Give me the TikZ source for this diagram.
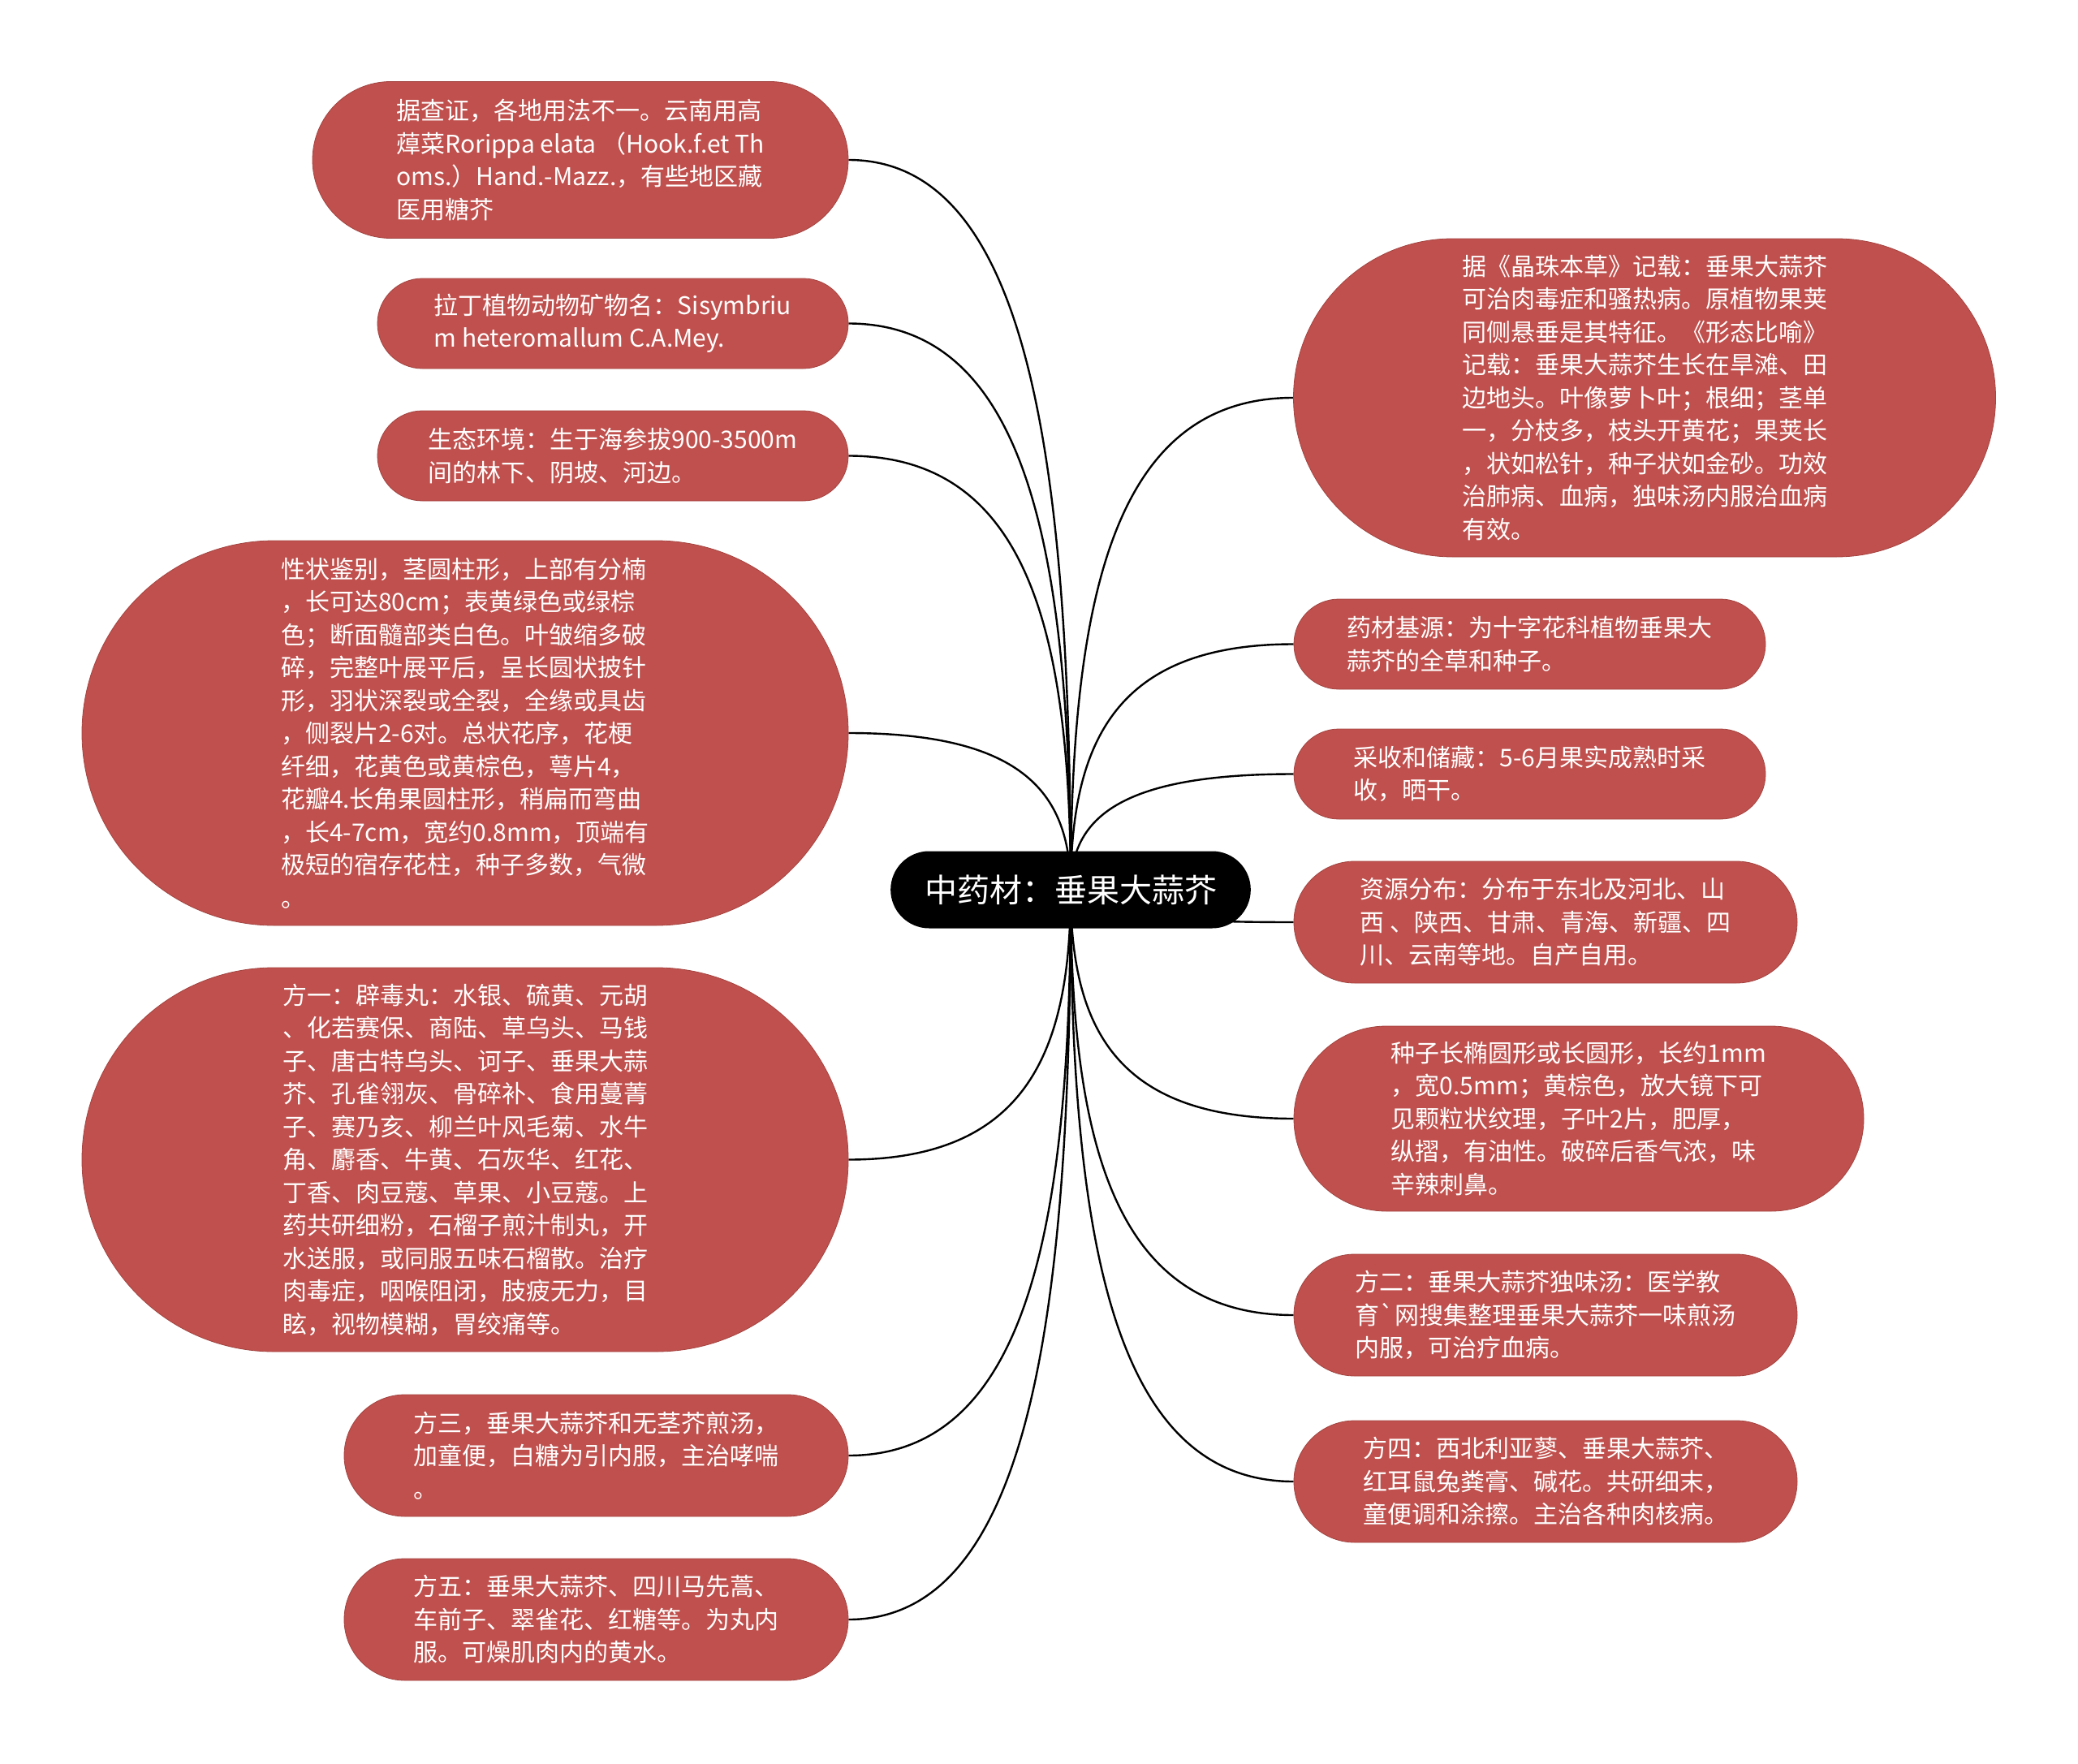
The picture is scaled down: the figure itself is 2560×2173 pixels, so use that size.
\documentclass[tikz,border=0pt]{standalone}
\usepackage{fontspec}
\setmainfont{Noto Sans CJK SC}[Ligatures=TeXOff]
\usetikzlibrary{shapes.misc,backgrounds,calc}
\definecolor{leafred}{HTML}{C0504D}

\begin{document}
\begin{tikzpicture}[
    x=0.5pt, y=-0.5pt,
    leaf/.style={shape=rounded rectangle, fill=leafred, draw=leafred!85!black, line width=0.4pt, text=white, align=left, inner xsep=0pt, inner ysep=0pt, font=\fontsize{15pt}{20.25pt}\selectfont},
    root/.style={shape=rounded rectangle, fill=black, text=white, minimum width=228.5pt, minimum height=47.5pt, font=\fontsize{20pt}{24pt}\selectfont},
    branch/.style={line width=1.2pt, to path={.. controls ($(\tikztostart)!0.6!(\tikztostart |- \tikztotarget)$) and ($(\tikztotarget)!0.8!(\tikztotarget -| \tikztostart)$) .. (\tikztotarget)}}
]
\useasboundingbox (0,0) rectangle (2560,2173);

\node[root] (hub) at (1319,1096) {中药材：垂果大蒜芥};

% left column
\node[leaf, minimum width=330pt, minimum height=96.5pt] (yunnan) at (715,197) {据查证，各地用法不一。云南用高\\蔊菜Rorippa elata （Hook.f.et Th\\oms.）Hand.-Mazz.，有些地区藏\\医用糖芥};
\node[leaf, minimum width=290pt, minimum height=55.5pt] (latin) at (755,398.5) {拉丁植物动物矿物名：Sisymbriu\\m heteromallum C.A.Mey.};
\node[leaf, minimum width=290pt, minimum height=55.5pt] (habitat) at (755,561.5) {生态环境：生于海参拔900-3500m\\间的林下、阴坡、河边。};
\node[leaf, minimum width=472pt, minimum height=237pt] (traits) at (573,903) {性状鉴别，茎圆柱形，上部有分楠\\，长可达80cm；表黄绿色或绿棕\\色；断面髓部类白色。叶皱缩多破\\碎，完整叶展平后，呈长圆状披针\\形，羽状深裂或全裂，全缘或具齿\\，侧裂片2-6对。总状花序，花梗\\纤细，花黄色或黄棕色，萼片4，\\花瓣4.长角果圆柱形，稍扁而弯曲\\，长4-7cm，宽约0.8mm，顶端有\\极短的宿存花柱，种子多数，气微\\。};
\node[leaf, minimum width=472pt, minimum height=236.5pt] (recipeA) at (573,1428.5) {方一：辟毒丸：水银、硫黄、元胡\\、化若赛保、商陆、草乌头、马钱\\子、唐古特乌头、诃子、垂果大蒜\\芥、孔雀翎灰、骨碎补、食用蔓菁\\子、赛乃亥、柳兰叶风毛菊、水牛\\角、麝香、牛黄、石灰华、红花、\\丁香、肉豆蔻、草果、小豆蔻。上\\药共研细粉，石榴子煎汁制丸，开\\水送服，或同服五味石榴散。治疗\\肉毒症，咽喉阻闭，肢疲无力，目\\眩，视物模糊，胃绞痛等。};
\node[leaf, minimum width=310.5pt, minimum height=75pt] (recipeC) at (734.5,1793) {方三，垂果大蒜芥和无茎芥煎汤，\\加童便，白糖为引内服，主治哮喘\\。};
\node[leaf, minimum width=310.5pt, minimum height=75pt] (recipeE) at (734.5,1995) {方五：垂果大蒜芥、四川马先蒿、\\车前子、翠雀花、红糖等。为丸内\\服。可燥肌肉内的黄水。};

% right column
\node[leaf, minimum width=432.5pt, minimum height=196pt] (jingzhu) at (2026,490) {据《晶珠本草》记载：垂果大蒜芥\\可治肉毒症和骚热病。原植物果荚\\同侧悬垂是其特征。《形态比喻》\\记载：垂果大蒜芥生长在旱滩、田\\边地头。叶像萝卜叶；根细；茎单\\一，分枝多，枝头开黄花；果荚长\\，状如松针，种子状如金砂。功效\\治肺病、血病，独味汤内服治血病\\有效。};
\node[leaf, minimum width=290.5pt, minimum height=55.5pt] (origin) at (1884.5,793.5) {药材基源：为十字花科植物垂果大\\蒜芥的全草和种子。};
\node[leaf, minimum width=290.5pt, minimum height=55.5pt] (harvest) at (1884.5,953.5) {采收和储藏：5-6月果实成熟时采\\收，晒干。};
\node[leaf, minimum width=310pt, minimum height=75pt] (spread) at (1904,1136) {资源分布：分布于东北及河北、山\\西 、陕西、甘肃、青海、新疆、四\\川、云南等地。自产自用。};
\node[leaf, minimum width=351pt, minimum height=114pt] (seed) at (1945,1378) {种子长椭圆形或长圆形，长约1mm\\，宽0.5mm；黄棕色，放大镜下可\\见颗粒状纹理，子叶2片，肥厚，\\纵摺，有油性。破碎后香气浓，味\\辛辣刺鼻。};
\node[leaf, minimum width=310pt, minimum height=75pt] (recipeB) at (1904,1620) {方二：垂果大蒜芥独味汤：医学教\\育`网搜集整理垂果大蒜芥一味煎汤\\内服，可治疗血病。};
\node[leaf, minimum width=310pt, minimum height=75pt] (recipeD) at (1904,1825) {方四：西北利亚蓼、垂果大蒜芥、\\红耳鼠兔粪膏、碱花。共研细末，\\童便调和涂擦。主治各种肉核病。};

% branches behind the boxes
\begin{scope}[on background layer]
\foreach \leaf in {yunnan,latin,habitat,traits,recipeA,recipeC,recipeE}
    \draw[branch] (hub.center) to (\leaf.east);
\foreach \leaf in {jingzhu,origin,harvest,spread,seed,recipeB,recipeD}
    \draw[branch] (hub.center) to (\leaf.west);
\end{scope}
\end{tikzpicture}
\end{document}
